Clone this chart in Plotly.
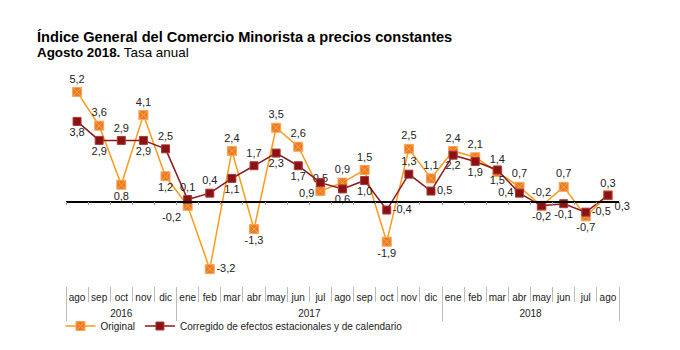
import plotly.graph_objects as go

months = ['ago','sep','oct','nov','dic','ene','feb','mar','abr','may','jun','jul',
          'ago','sep','oct','nov','dic','ene','feb','mar','abr','may','jun','jul','ago']
years = ['2016']*5 + ['2017']*12 + ['2018']*8

original = [5.2, 3.6, 0.8, 4.1, 1.2, -0.2, -3.2, 2.4, -1.3, 3.5, 2.6, 0.5,
            0.9, 1.5, -1.9, 2.5, 1.1, 2.4, 2.1, 1.4, 0.7, -0.2, 0.7, -0.7, 0.3]
corregido = [3.8, 2.9, 2.9, 2.9, 2.5, 0.1, 0.4, 1.1, 1.7, 2.3, 1.7, 0.9,
             0.6, 1.0, -0.4, 1.3, 0.5, 2.2, 1.9, 1.5, 0.4, -0.2, -0.1, -0.5, 0.3]

pos_original = ['top center','top center','bottom center','top center','bottom center',
                'bottom left','middle right','top center','bottom center','top center',
                'top center','top center','top center','top center','bottom center',
                'top center','top center','top center','top center','top center',
                'top center','top center','top center','bottom center','bottom right']
pos_corregido = ['bottom center','bottom center','top center','bottom center','top center',
                 'top center','top center','bottom center','top center','bottom center',
                 'bottom center','bottom left','bottom center','bottom center','middle right',
                 'top center','middle right','bottom center','bottom center','bottom center',
                 'middle left','bottom center','bottom center','middle right','top center']

FONT = "Liberation Sans, Arial, sans-serif"
n = len(months)
keys = [m + ' ' + y for m, y in zip(months, years)]
idx = list(range(n))

# year groups derived from the years list
year_names = []
for y in years:
    if y not in year_names:
        year_names.append(y)
year_centers = []
for y in year_names:
    ii = [i for i, yy in enumerate(years) if yy == y]
    year_centers.append((ii[0] + ii[-1]) / 2)
year_bounds = [-0.5] + [i - 0.5 for i in range(1, n) if years[i] != years[i - 1]] + [n - 0.5]

fig = go.Figure()
fig.add_trace(go.Scatter(
    x=keys, y=original, name='Original', mode='lines+markers+text',
    line=dict(color='#FF9A1A', width=1.5),
    marker=dict(symbol='square-x', size=9, color='#EE7A1E',
                line=dict(color='#F7A65A', width=1)),
    text=original, texttemplate='%{y:.1f}', textposition=pos_original,
    textfont=dict(family=FONT, size=11, color='#222222'),
    cliponaxis=False, hoverinfo='skip'))
fig.add_trace(go.Scatter(
    x=keys, y=corregido, name='Corregido de efectos estacionales y de calendario',
    mode='lines+markers+text',
    line=dict(color='#8B1A1A', width=1.5),
    marker=dict(symbol='square', size=8, color='#8B1212',
                line=dict(color='#A83A3A', width=1)),
    text=corregido, texttemplate='%{y:.1f}', textposition=pos_corregido,
    textfont=dict(family=FONT, size=11, color='#222222'),
    cliponaxis=False, hoverinfo='skip'))
# invisible helper traces for the overlay axes
for ax, xs in (('x2', keys), ('x3', idx), ('x4', idx)):
    fig.add_trace(go.Scatter(x=xs, y=[0]*n, xaxis=ax, mode='markers',
                             marker=dict(opacity=0), showlegend=False,
                             hoverinfo='skip'))

common = dict(range=[-0.5, n - 0.5], showgrid=False, zeroline=False, automargin=False)

fig.update_layout(
    width=680, height=350,
    margin=dict(l=66, r=61, t=75, b=64, autoexpand=False),
    paper_bgcolor='white', plot_bgcolor='white',
    separators=',.',
    font=dict(family=FONT, size=10, color='#222222'),
    showlegend=True,
    legend=dict(orientation='h', x=-0.01, xanchor='left',
                y=-40/211, yanchor='middle', itemwidth=30,
                font=dict(family=FONT, size=10, color='#222222'),
                traceorder='normal', bgcolor='rgba(0,0,0,0)'),
    # month labels + month separators
    xaxis=dict(type='category', categoryorder='array', categoryarray=keys,
               tickvals=keys, ticktext=months, tickangle=0,
               ticks='outside', tickson='boundaries', ticklen=15,
               tickcolor='#BBBBBB', tickwidth=1, showline=False,
               ticklabelstandoff=4,
               tickfont=dict(family=FONT, size=10, color='#222222'), **common),
    # zero line with small ticks
    xaxis2=dict(type='category', overlaying='x', anchor='free', position=0.4,
                side='bottom', categoryorder='array', categoryarray=keys,
                showline=True, linecolor='#000000', linewidth=1.5,
                ticks='outside', tickson='boundaries', ticklen=3,
                tickcolor='#999999', showticklabels=False, **common),
    # year labels
    xaxis3=dict(type='linear', overlaying='x', anchor='y', side='bottom',
                tickmode='array', tickvals=year_centers, ticktext=year_names,
                ticks='', showline=False, ticklabelstandoff=20,
                tickfont=dict(family=FONT, size=10, color='#222222'), **common),
    # year dividers
    xaxis4=dict(type='linear', overlaying='x', anchor='y', side='bottom',
                tickmode='array', tickvals=year_bounds, ticks='outside',
                ticklen=34, tickcolor='#BBBBBB', tickwidth=1,
                showticklabels=False, showline=False, **common),
    yaxis=dict(range=[-4, 6], domain=[0, 1], showgrid=False, zeroline=False,
               showline=False, showticklabels=False, ticks='', automargin=False),
    annotations=[
        dict(text='<b>Índice General del Comercio Minorista a precios constantes</b>',
             xref='paper', yref='paper', x=-31/553, y=1 + 38/211, xanchor='left',
             yanchor='middle', showarrow=False,
             font=dict(family=FONT, size=14.6, color='#000000')),
        dict(text='<b>Agosto 2018.</b> Tasa anual',
             xref='paper', yref='paper', x=-31/553, y=1 + 22.5/211, xanchor='left',
             yanchor='middle', showarrow=False,
             font=dict(family=FONT, size=13.4, color='#000000')),
    ],
)

fig.write_html('out.html')
